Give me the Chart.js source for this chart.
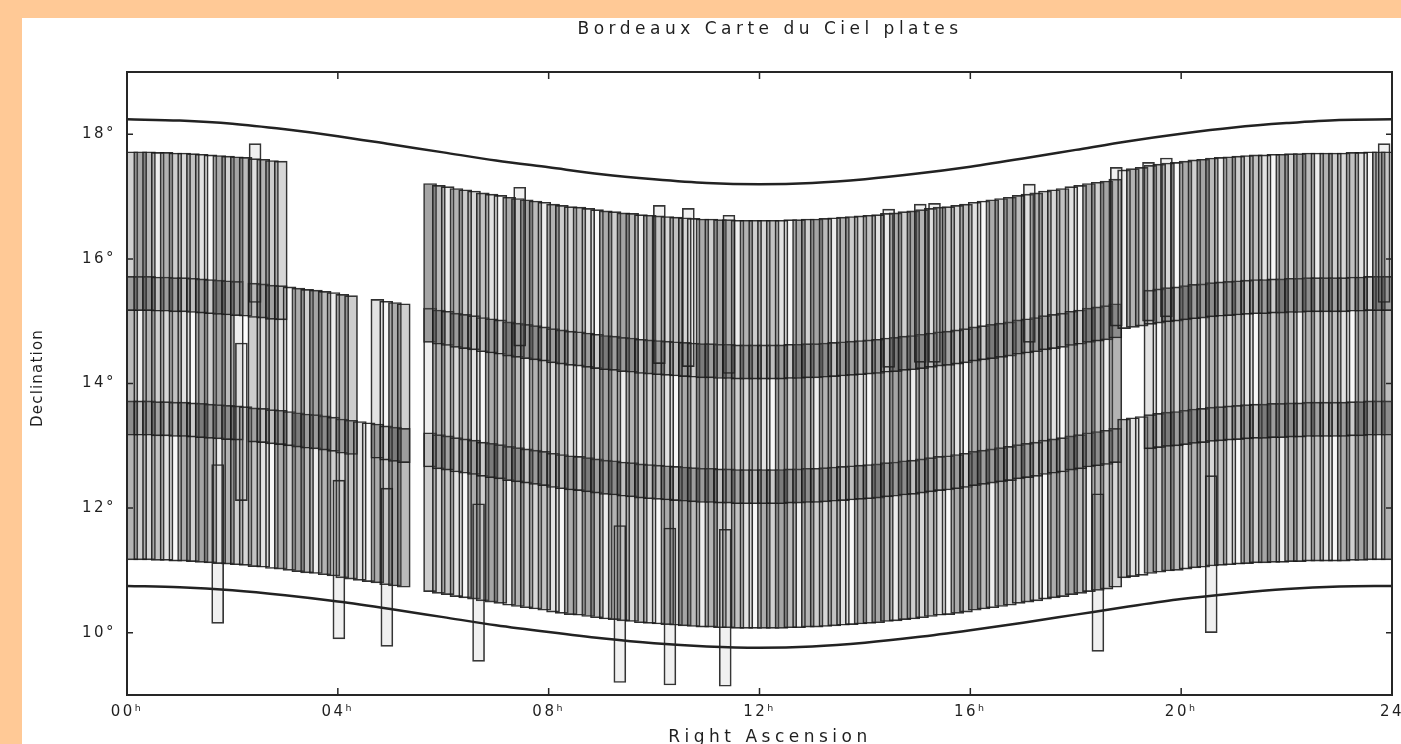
<!DOCTYPE html>
<html>
<head>
<meta charset="utf-8">
<title>Bordeaux Carte du Ciel plates</title>
<script src="https://cdn.jsdelivr.net/npm/chart.js@4.4.1/dist/chart.umd.min.js"></script>
<style>
  html, body { margin: 0; padding: 0; background: #fff; overflow: hidden; }
  #wrap { position: relative; width: 1401px; height: 744px; }
  canvas { display: block; }
</style>
</head>
<body>
<div id="wrap"><canvas id="plates" width="1401" height="744"></canvas></div>
<script>
// Right ascension of each plate column (minutes of time)
const columnRAmin = [
  5, 15, 25, 35, 45, 55, 65, 75, 85, 95, 105, 115,
  125, 135, 145, 155, 165, 175, 185, 195, 205, 215, 225, 235,
  245, 255, 265, 275, 285, 295, 305, 315, 325, 335, 345, 355,
  365, 375, 385, 395, 405, 415, 425, 435, 445, 455, 465, 475,
  485, 495, 505, 515, 525, 535, 545, 555, 565, 575, 585, 595,
  605, 615, 625, 635, 645, 655, 665, 675, 685, 695, 705, 715,
  725, 735, 745, 755, 765, 775, 785, 795, 805, 815, 825, 835,
  845, 855, 865, 875, 885, 895, 905, 915, 925, 935, 945, 955,
  965, 975, 985, 995, 1005, 1015, 1025, 1035, 1045, 1055, 1065, 1075,
  1085, 1095, 1105, 1115, 1125, 1135, 1145, 1155, 1165, 1175, 1185, 1195,
  1205, 1215, 1225, 1235, 1245, 1255, 1265, 1275, 1285, 1295, 1305, 1315,
  1325, 1335, 1345, 1355, 1365, 1375, 1385, 1395, 1405, 1415, 1425, 1435
];

// Southern edge (degrees) of the lowest plate in each column
const columnBase = [
  11.17, 11.17, 11.17, 11.16, 11.16, 11.15, 11.15, 11.14, 11.13, 11.12, 11.11, 11.10,
  11.09, 11.08, 11.06, 11.05, 11.03, 11.02, 11.00, 10.98, 10.96, 10.95, 10.93, 10.91,
  10.88, 10.86, 10.84, 10.82, 10.80, 10.77, 10.75, 10.73, 10.70, 10.68, 10.66, 10.63,
  10.61, 10.58, 10.56, 10.54, 10.51, 10.49, 10.47, 10.44, 10.42, 10.40, 10.38, 10.36,
  10.33, 10.31, 10.29, 10.28, 10.26, 10.24, 10.22, 10.21, 10.19, 10.18, 10.16, 10.15,
  10.14, 10.13, 10.12, 10.11, 10.10, 10.09, 10.09, 10.08, 10.08, 10.07, 10.07, 10.07,
  10.07, 10.07, 10.07, 10.08, 10.08, 10.09, 10.09, 10.10, 10.11, 10.12, 10.13, 10.14,
  10.15, 10.16, 10.18, 10.19, 10.21, 10.22, 10.24, 10.26, 10.28, 10.29, 10.31, 10.33,
  10.36, 10.38, 10.40, 10.42, 10.44, 10.47, 10.49, 10.51, 10.54, 10.56, 10.58, 10.61,
  10.63, 10.66, 10.68, 10.70, 10.73, 10.88, 10.90, 10.92, 10.95, 10.97, 10.99, 11.00,
  11.02, 11.04, 11.05, 11.07, 11.08, 11.09, 11.10, 11.11, 11.12, 11.12, 11.13, 11.13,
  11.14, 11.14, 11.15, 11.15, 11.15, 11.15, 11.15, 11.16, 11.16, 11.17, 11.17, 11.17
];

// Plate rows present in each column: bit 1 = lower, 2 = middle, 4 = upper
const columnRows = [
  7, 7, 7, 7, 7, 7, 7, 7, 7, 7, 7, 7,
  7, 5, 7, 7, 7, 7, 3, 3, 3, 3, 3, 3,
  3, 3, 1, 1, 3, 3, 3, 3, 0, 0, 7, 7,
  7, 7, 7, 7, 7, 7, 7, 7, 7, 7, 7, 7,
  7, 7, 7, 7, 7, 7, 7, 7, 7, 7, 7, 7,
  7, 7, 7, 7, 7, 7, 7, 7, 7, 7, 7, 7,
  7, 7, 7, 7, 7, 7, 7, 7, 7, 7, 7, 7,
  7, 7, 7, 7, 7, 7, 7, 7, 7, 7, 7, 7,
  7, 7, 7, 7, 7, 7, 7, 7, 7, 7, 7, 7,
  7, 7, 7, 7, 7, 5, 5, 5, 7, 7, 7, 7,
  7, 7, 7, 7, 7, 7, 7, 7, 7, 7, 7, 7,
  7, 7, 7, 7, 7, 7, 7, 7, 7, 7, 7, 7
];

// Offset of each plate row above the column base, and plate height (degrees)
const rowOffsets = [0, 2, 4];
const plateHeight = 2.55;

// Additional, displaced plates (RA in hours, declination limits in degrees)
const extraRA   = [1.72, 2.17, 2.43, 4.02, 4.93, 6.67, 7.45, 9.35, 10.10, 10.30, 10.65, 11.35, 11.42, 14.45, 15.05, 15.32, 17.12, 18.42, 18.77, 19.38, 19.72, 20.57, 23.85];
const extraLow  = [10.15, 12.12, 15.30, 9.90, 9.78, 9.54, 14.60, 9.20, 14.32, 9.16, 14.27, 9.14, 14.16, 14.26, 14.34, 14.34, 14.66, 9.70, 14.92, 15.00, 15.07, 10.00, 15.30];
const extraHigh = [12.70, 14.65, 17.85, 12.45, 12.32, 12.07, 17.15, 11.72, 16.86, 11.68, 16.81, 11.66, 16.70, 16.80, 16.88, 16.89, 17.20, 12.23, 17.47, 17.55, 17.62, 12.52, 17.85];

// Zone limits (degrees) at each hour of right ascension
const limitRA    = [0, 1, 2, 3, 4, 5, 6, 7, 8, 9, 10, 11, 12, 13, 14, 15, 16, 17, 18, 19, 20, 21, 22, 23, 24];
const upperLimit = [18.24, 18.22, 18.17, 18.08, 17.97, 17.84, 17.71, 17.58, 17.47, 17.36, 17.28, 17.22, 17.20, 17.22, 17.28, 17.37, 17.48, 17.61, 17.75, 17.89, 18.01, 18.11, 18.18, 18.23, 18.24];
const lowerLimit = [10.75, 10.73, 10.68, 10.60, 10.50, 10.38, 10.25, 10.12, 10.01, 9.91, 9.83, 9.78, 9.76, 9.78, 9.84, 9.93, 10.04, 10.16, 10.29, 10.42, 10.54, 10.63, 10.70, 10.74, 10.75];

// Axis ticks
const raTicks = [0, 4, 8, 12, 16, 20, 24];
const raTickLabels = ['00ʰ', '04ʰ', '08ʰ', '12ʰ', '16ʰ', '20ʰ', '24'];
const decTicks = [10, 12, 14, 16, 18];
const decTickLabels = ['10°', '12°', '14°', '16°', '18°'];

// ---- build the plate boxes ----
const plates = [];
const plateTone = [];
columnRAmin.forEach((m, k) => {
  rowOffsets.forEach((off, r) => {
    if (columnRows[k] & (1 << r)) {
      const lo = columnBase[k] + off;
      plates.push({ x: m / 60, y: [lo, lo + plateHeight] });
      plateTone.push((k * 3 + r * 5) % 11);
    }
  });
});
const extras = extraRA.map((ra, i) => ({ x: ra, y: [extraLow[i], extraHigh[i]] }));
const upperLine = limitRA.map((ra, i) => ({ x: ra, y: upperLimit[i] }));
const lowerLine = limitRA.map((ra, i) => ({ x: ra, y: lowerLimit[i] }));

// grey levels used to fill the overlapping plates
const toneAlpha = [0.42, 0.16, 0.50, 0.28, 0.04, 0.38, 0.22, 0.46, 0.10, 0.34, 0.26];

const FONT = '"DejaVu Sans", "Liberation Sans", Arial, sans-serif';

const decorations = {
  id: 'decorations',
  beforeDraw(chart) {
    const { ctx, width, height } = chart;
    ctx.save();
    ctx.fillStyle = '#ffffff';
    ctx.fillRect(0, 0, width, height);
    ctx.fillStyle = '#ffc996';
    ctx.fillRect(0, 0, width, 18);
    ctx.fillRect(0, 0, 22, height);
    ctx.restore();
    ctx.letterSpacing = '2.5px';
  },
  afterDatasetsDraw(chart) {
    const { ctx, chartArea: a, scales: { x, y } } = chart;
    ctx.save();
    ctx.strokeStyle = '#262626';
    ctx.lineWidth = 2;
    ctx.strokeRect(a.left, a.top, a.right - a.left, a.bottom - a.top);
    ctx.lineWidth = 1.5;
    ctx.beginPath();
    raTicks.forEach(v => {
      const px = x.getPixelForValue(v);
      ctx.moveTo(px, a.bottom); ctx.lineTo(px, a.bottom - 7);
      ctx.moveTo(px, a.top);    ctx.lineTo(px, a.top + 7);
    });
    decTicks.forEach(v => {
      const py = y.getPixelForValue(v);
      ctx.moveTo(a.left, py);  ctx.lineTo(a.left + 6, py);
      ctx.moveTo(a.right, py); ctx.lineTo(a.right - 6, py);
    });
    ctx.stroke();
    ctx.restore();
  },
  afterDraw(chart) {
    const { ctx } = chart;
    ctx.save();
    ctx.fillStyle = '#1f1f1f';
    ctx.textAlign = 'center';
    ctx.textBaseline = 'middle';
    ctx.font = '17px ' + FONT;
    ctx.letterSpacing = '4.5px';
    ctx.fillText('Bordeaux Carte du Ciel plates', 770, 30);
    ctx.fillText('Right Ascension', 770, 738);
    ctx.translate(38, 378);
    ctx.rotate(-Math.PI / 2);
    ctx.font = '15px ' + FONT;
    ctx.letterSpacing = '1.2px';
    ctx.fillText('Declination', 0, 0);
    ctx.restore();
  }
};

new Chart(document.getElementById('plates'), {
  type: 'bar',
  data: {
    datasets: [
      {
        type: 'line', data: upperLine, order: 0,
        borderColor: '#222', borderWidth: 2.5, pointRadius: 0,
        cubicInterpolationMode: 'monotone', fill: false
      },
      {
        type: 'line', data: lowerLine, order: 0,
        borderColor: '#222', borderWidth: 2.5, pointRadius: 0,
        cubicInterpolationMode: 'monotone', fill: false
      },
      {
        data: extras, order: 1, grouped: false,
        barThickness: 12, borderSkipped: false, borderWidth: 1,
        backgroundColor: 'rgba(110,110,110,0.10)', borderColor: 'rgba(30,30,30,0.9)'
      },
      {
        data: plates, order: 2, grouped: false,
        barThickness: 13, borderSkipped: false, borderWidth: 1,
        backgroundColor: c => `rgba(75,75,75,${toneAlpha[plateTone[c.dataIndex]] ?? 0.2})`,
        borderColor: 'rgba(25,25,25,0.9)'
      }
    ]
  },
  options: {
    responsive: false,
    animation: false,
    devicePixelRatio: 1,
    layout: { padding: { top: 72, right: 9, left: 0, bottom: 0 } },
    plugins: { legend: { display: false }, tooltip: { enabled: false }, title: { display: false } },
    scales: {
      x: {
        type: 'linear', min: 0, max: 24, offset: false,
        afterBuildTicks: s => { s.ticks = raTicks.map(v => ({ value: v })); },
        afterFit: s => { s.height = 49; s.paddingLeft = 0; s.paddingRight = 0; },
        grid: { display: false, drawTicks: false, offset: false },
        border: { display: false },
        ticks: {
          autoSkip: false, maxRotation: 0, padding: 8, color: '#1f1f1f',
          font: { family: FONT, size: 15 },
          callback: (v, i) => raTickLabels[i]
        }
      },
      y: {
        type: 'linear', min: 9, max: 19,
        afterBuildTicks: s => { s.ticks = decTicks.map(v => ({ value: v })); },
        afterFit: s => { s.width = 127; s.paddingTop = 0; s.paddingBottom = 0; },
        grid: { display: false, drawTicks: false },
        border: { display: false },
        ticks: {
          padding: 11, color: '#1f1f1f',
          font: { family: FONT, size: 15 },
          callback: (v, i) => decTickLabels[i]
        }
      }
    }
  },
  plugins: [decorations]
});
</script>
</body>
</html>
